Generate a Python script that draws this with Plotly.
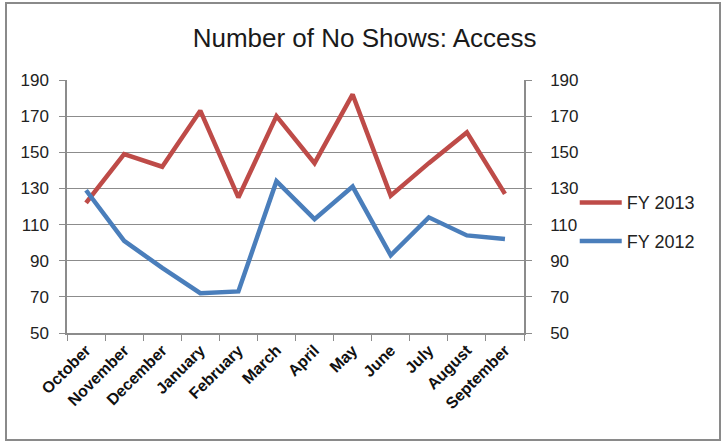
import plotly.graph_objects as go

# Monthly no-show counts, fiscal year order (October - September)
months = ["October", "November", "December", "January", "February", "March",
          "April", "May", "June", "July", "August", "September"]
fy2013 = [122, 149, 142, 173, 125, 170, 144, 182, 126, 144, 161, 127]
fy2012 = [129, 101, 86, 72, 73, 134, 113, 131, 93, 114, 104, 102]
y_ticks = [50, 70, 90, 110, 130, 150, 170, 190]

RED = "#BE4B48"
BLUE = "#4A7EBB"
GRID = "#8C8C8C"
FONT = "Liberation Sans"

PLOT_W, PLOT_H = 457, 253

fig = go.Figure()
fig.add_trace(go.Scatter(x=months, y=fy2013, name="FY 2013", mode="lines",
                         line=dict(color=RED, width=4.5), legend="legend"))
fig.add_trace(go.Scatter(x=months, y=fy2012, name="FY 2012", mode="lines",
                         line=dict(color=BLUE, width=4.5), legend="legend2"))
# invisible companion trace so the right-hand axis is drawn
fig.add_trace(go.Scatter(x=months, y=fy2012, yaxis="y2", mode="lines",
                         line=dict(width=0), showlegend=False, hoverinfo="skip"))

yaxis_common = dict(
    range=[50, 190], tickvals=y_ticks, ticks="outside", ticklen=6,
    tickcolor=GRID, showline=True, linecolor=GRID, linewidth=1.5,
    tickfont=dict(family=FONT, size=17, color="#222222"),
)

legend_common = dict(xanchor="left", yanchor="middle",
                     bgcolor="rgba(0,0,0,0)", itemwidth=42,
                     font=dict(family=FONT, size=18, color="#222222"))

fig.update_layout(
    width=722, height=442,
    margin=dict(l=67, r=198, t=80, b=109),
    paper_bgcolor="white", plot_bgcolor="white",
    title=dict(text="Number of No Shows: Access", x=0.505, xanchor="center",
               y=0.915, yanchor="middle",
               font=dict(family=FONT, size=26, color="#1a1a1a")),
    xaxis=dict(
        type="category", range=[-0.5, len(months) - 0.5],
        tickangle=-45, ticks="outside", ticklen=6,
        tickson="boundaries", tickcolor=GRID, showline=True, linecolor=GRID,
        linewidth=1.5, showgrid=False,
        tickfont=dict(family=FONT, size=16, color="#111111", weight="bold"),
    ),
    yaxis=dict(showgrid=True, gridcolor=GRID, gridwidth=1.2, side="left",
               zeroline=False, ticklabelstandoff=7, **yaxis_common),
    yaxis2=dict(overlaying="y", side="right", showgrid=False, zeroline=False,
                ticklabelstandoff=15, **yaxis_common),
    legend=dict(x=1.111, y=0.515, **legend_common),
    legend2=dict(x=1.111, y=0.362, **legend_common),
    shapes=[dict(type="rect", xref="paper", yref="paper",
                 x0=-61 / PLOT_W, x1=653 / PLOT_W,
                 y0=-107 / PLOT_H, y1=330 / PLOT_H,
                 line=dict(color="#8a8a8a", width=2), layer="below")],
    showlegend=True,
)

fig.write_html("out.html")
